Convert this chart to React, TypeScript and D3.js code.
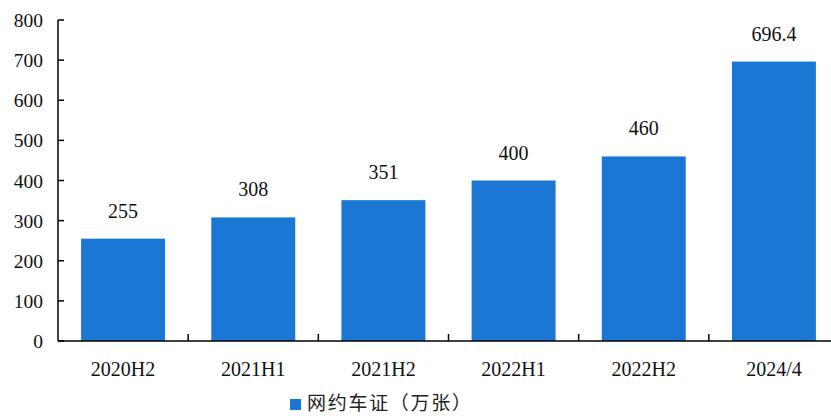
import React from "react";
import * as d3 from "d3";

const categories = ["2020H2", "2021H1", "2021H2", "2022H1", "2022H2", "2024/4"];
const values = [255, 308, 351, 400, 460, 696.4];
const valueLabels = ["255", "308", "351", "400", "460", "696.4"];
const yTicks = [0, 100, 200, 300, 400, 500, 600, 700, 800];
const seriesName = "网约车证（万张）";

export default function App() {
  const W = 831, H = 416;
  const left = 58, right = 839, top = 20, bottom = 341;
  const x = d3.scaleBand<string>().domain(categories).range([left, right]).paddingInner(0.355).paddingOuter(0.1775);
  const y = d3.scaleLinear().domain([0, 800]).range([bottom, top]);
  const color = "#1a78d4";
  const serif = "Times New Roman, Liberation Serif, DejaVu Serif, serif";
  const step = (right - left) / categories.length;
  return (
    <svg width={W} height={H} style={{ position: "absolute", left: 0, top: 0 }}>
      <rect width={W} height={H} fill="#fff" />
      {categories.map((c, i) => (
        <g key={c}>
          <rect x={x(c)} y={y(values[i])} width={x.bandwidth()} height={bottom - y(values[i])} fill={color} />
          <text x={x(c)! + x.bandwidth() / 2} y={y(values[i]) - 21} textAnchor="middle" style={{ fontFamily: serif }} fontSize={20} fill="#111">{valueLabels[i]}</text>
          <text x={x(c)! + x.bandwidth() / 2} y={376} textAnchor="middle" style={{ fontFamily: serif }} fontSize={20} fill="#111">{c}</text>
        </g>
      ))}
      {categories.slice(1).map((c, i) => (
        <line key={c} x1={left + step * (i + 1)} x2={left + step * (i + 1)} y1={bottom} y2={bottom - 7} stroke="#000" strokeWidth={1.5} />
      ))}
      <line x1={left} x2={W} y1={bottom} y2={bottom} stroke="#000" strokeWidth={1.5} />
      <line x1={left} x2={left} y1={top} y2={bottom} stroke="#000" strokeWidth={1.5} />
      {yTicks.map(t => (
        <g key={t}>
          <line x1={left} x2={left + 6} y1={y(t)} y2={y(t)} stroke="#000" strokeWidth={1.5} />
          <text x={43} y={y(t) + 7} textAnchor="end" style={{ fontFamily: serif }} fontSize={19.5} fill="#111">{t}</text>
        </g>
      ))}
      <rect x={290} y={399} width={11} height={11} fill={color} />
      <text x={307} y={410} textLength={164} lengthAdjust="spacing" style={{ fontFamily: "Noto Sans CJK SC, sans-serif" }} fontSize={19} fill="#222">{seriesName}</text>
    </svg>
  );
}
